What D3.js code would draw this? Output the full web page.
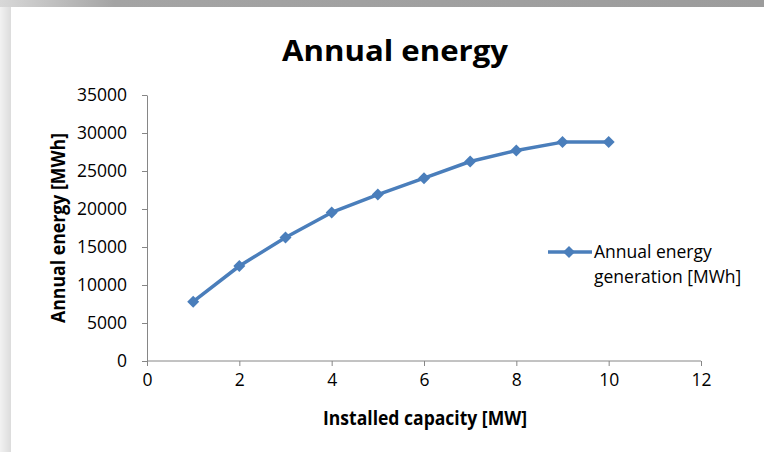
<!DOCTYPE html>
<html>
<head>
<meta charset="utf-8">
<script src="https://cdn.jsdelivr.net/npm/d3@7"></script>
<style>
  body { margin: 0; background: #fff; }
  svg { display: block; font-family: "Open Sans", sans-serif; }
  .axis path, .axis line { stroke: #868686; }
  .axis text { font-size: 17.5px; fill: #000; font-family: "Open Sans", sans-serif; }
</style>
</head>
<body>
<svg width="764" height="452"></svg>
<script>
// data
const capacity = [1, 2, 3, 4, 5, 6, 7, 8, 9, 10];
const energy = [7800, 12500, 16250, 19550, 21900, 24050, 26250, 27700, 28800, 28800];
const xTicks = [0, 2, 4, 6, 8, 10, 12];
const yTicks = [0, 5000, 10000, 15000, 20000, 25000, 30000, 35000];

const svg = d3.select("svg");

// grey frame of the screenshot
const defs = svg.append("defs");
const topGrad = defs.append("linearGradient").attr("id", "topGrad");
topGrad.append("stop").attr("offset", "0%").attr("stop-color", "#d8d8d8");
topGrad.append("stop").attr("offset", "15%").attr("stop-color", "#a4a4a4");
topGrad.append("stop").attr("offset", "100%").attr("stop-color", "#9c9c9c");
const leftGrad = defs.append("linearGradient").attr("id", "leftGrad");
leftGrad.append("stop").attr("offset", "0%").attr("stop-color", "#f2f2f2");
leftGrad.append("stop").attr("offset", "100%").attr("stop-color", "#dcdcdc");

svg.append("rect").attr("x", 0).attr("y", 0).attr("width", 11).attr("height", 452).attr("fill", "url(#leftGrad)");
svg.append("rect").attr("x", 0).attr("y", 0).attr("width", 764).attr("height", 7).attr("fill", "url(#topGrad)");

const x = d3.scaleLinear().domain([0, 12]).range([147, 701]);
const y = d3.scaleLinear().domain([0, 35000]).range([361, 95]);

// axes
svg.append("g")
  .attr("class", "axis")
  .attr("transform", "translate(0,361)")
  .call(d3.axisBottom(x).tickValues(xTicks).tickSize(5).tickSizeOuter(0).tickPadding(8))
  .call(g => g.select(".domain").attr("d", `M${x(0)},0H${x(12)}`));

svg.append("g")
  .attr("class", "axis")
  .attr("transform", "translate(147,0)")
  .call(d3.axisLeft(y).tickValues(yTicks).tickSize(5).tickSizeOuter(0).tickPadding(15).tickFormat(d3.format("d")));

// line + diamonds
const color = "#4a7ebb";
const line = d3.line()
  .x((d, i) => x(capacity[i]))
  .y(d => y(d));

svg.append("path")
  .datum(energy)
  .attr("d", line)
  .attr("fill", "none")
  .attr("stroke", color)
  .attr("stroke-width", 3.5)
  .attr("stroke-linejoin", "round");

const diamond = d3.symbol().type(d3.symbolSquare).size(72);

svg.selectAll("path.marker")
  .data(energy)
  .enter()
  .append("path")
  .attr("class", "marker")
  .attr("d", diamond)
  .attr("fill", color)
  .attr("transform", (d, i) => `translate(${x(capacity[i])},${y(d)}) rotate(45)`);

// titles
svg.append("text")
  .attr("x", 395)
  .attr("y", 61)
  .attr("text-anchor", "middle")
  .attr("font-size", 29)
  .attr("font-weight", "bold")
  .attr("textLength", 226)
  .attr("lengthAdjust", "spacingAndGlyphs")
  .text("Annual energy");

svg.append("text")
  .attr("x", 425)
  .attr("y", 425)
  .attr("text-anchor", "middle")
  .attr("font-size", 19)
  .attr("font-weight", "bold")
  .attr("textLength", 204)
  .attr("lengthAdjust", "spacingAndGlyphs")
  .text("Installed capacity [MW]");

svg.append("text")
  .attr("transform", "translate(65,228) rotate(-90)")
  .attr("text-anchor", "middle")
  .attr("font-size", 19)
  .attr("font-weight", "bold")
  .attr("textLength", 190)
  .attr("lengthAdjust", "spacingAndGlyphs")
  .text("Annual energy [MWh]");

// legend
const legend = svg.append("g").attr("transform", "translate(548,252)");
legend.append("line")
  .attr("x1", 0).attr("x2", 44)
  .attr("stroke", color).attr("stroke-width", 3.5);
legend.append("path")
  .attr("d", diamond)
  .attr("fill", color)
  .attr("transform", "translate(21,0) rotate(45)");
legend.append("text")
  .attr("x", 46).attr("y", 6)
  .attr("font-size", 17.5)
  .text("Annual energy");
legend.append("text")
  .attr("x", 46).attr("y", 31)
  .attr("font-size", 17.5)
  .text("generation [MWh]");
</script>
</body>
</html>
